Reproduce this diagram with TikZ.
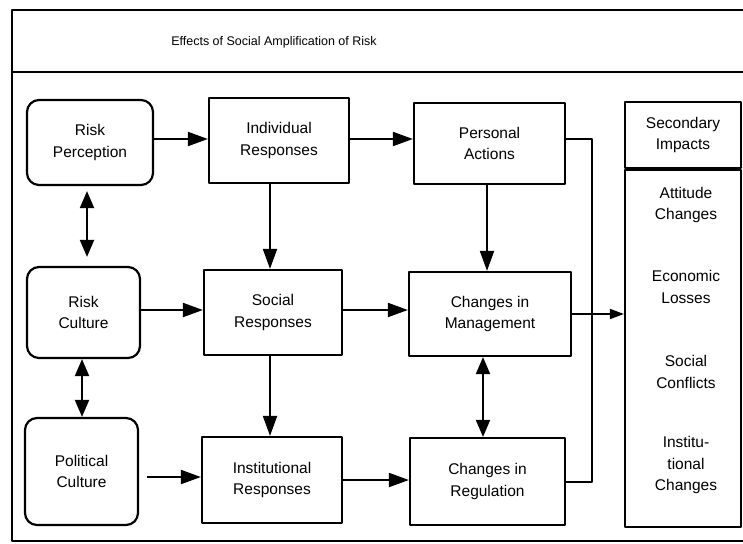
\documentclass[tikz,border=0pt]{standalone}
\usepackage{fontspec}
\setmainfont{Liberation Sans}
\usetikzlibrary{arrows.meta}
\begin{document}
\begin{tikzpicture}[x=1pt, y=-1pt, line join=round, font=\fontsize{15.5}{21.5}\selectfont,
    box/.style={draw, line width=2.2pt, align=center, inner sep=0pt},
    rbox/.style={box, rounded corners=12pt},
    lbl/.style={align=center, inner sep=0pt},
    arr/.style={line width=2pt, -{Triangle[length=20pt,width=14pt]}},
    dbl/.style={line width=2pt, {Triangle[length=17pt,width=14pt]}-{Triangle[length=17pt,width=14pt]}},
    sarr/.style={line width=1.8pt, -{Triangle[length=14pt,width=10pt]}}]
    \useasboundingbox (0,0) rectangle (743,543);
    % frame and title band
    \draw[line width=2.2pt] (743,10) -- (12,10) -- (12,541) -- (743,541) (12,72) -- (743,72);
    \node[lbl, font=\fontsize{12.5}{14}\selectfont] (title) at (274,42) {Effects of Social Amplification of Risk};
    % first column
    \node[rbox, minimum width=126pt, minimum height=85pt] (rp) at (90,142.5) {Risk\\Perception};
    \node[rbox, minimum width=113pt, minimum height=91pt] (rc) at (83.5,312.5) {Risk\\Culture};
    \node[rbox, minimum width=113pt, minimum height=107pt] (pc) at (81.5,471.5) {Political\\Culture};
    % responses
    \node[box, minimum width=140pt, minimum height=85pt] (ir) at (279,140.5) {Individual\\Responses};
    \node[box, minimum width=138pt, minimum height=85pt] (sr) at (273,312.5) {Social\\Responses};
    \node[box, minimum width=140pt, minimum height=86pt] (inr) at (272,480) {Institutional\\Responses};
    % actions and changes
    \node[box, minimum width=151pt, minimum height=81pt] (pa) at (489.5,143.5) {Personal\\Actions};
    \node[box, minimum width=162pt, minimum height=84pt] (cm) at (490,314) {Changes in\\Management};
    \node[box, minimum width=155pt, minimum height=87pt] (cr) at (487.5,481.5) {Changes in\\Regulation};
    % secondary impacts
    \node[box, minimum width=116pt, minimum height=66pt] (si) at (683,135) {Secondary\\Impacts};
    \node[box, minimum width=116pt, minimum height=357pt, anchor=north] (sib) at (si.south) {};
    \node[lbl] (att) at (686,205) {Attitude\\Changes};
    \node[lbl] (eco) at (686,287) {Economic\\Losses};
    \node[lbl] (soc) at (686,372) {Social\\Conflicts};
    \node[lbl] (inc) at (686,465) {Institu-\\tional\\Changes};
    \coordinate (bend) at (592,300);
    % connectors
    \draw[arr] ([yshift=3.5pt]rp.east) -- ([yshift=3.5pt]rp.east -| ir.west);
    \draw[arr] ([yshift=1.5pt]ir.east) -- ([yshift=1.5pt]ir.east -| pa.west);
    \draw[arr] ([xshift=-9pt]ir.south) -- ([xshift=-9pt]ir.south |- sr.north);
    \draw[dbl] ([xshift=-3pt,yshift=-5pt]rp.south) -- ([xshift=3.5pt,yshift=9pt]rc.north);
    \draw[arr] ([yshift=2.5pt]rc.east) -- ([yshift=2.5pt]rc.east -| sr.west);
    \draw[arr] ([yshift=2.5pt]sr.east) -- ([yshift=2.5pt]sr.east -| cm.west);
    \draw[dbl] ([xshift=-1.5pt]rc.south) -- ([xshift=-1.5pt]rc.south |- pc.north);
    \draw[arr] ([xshift=-3pt]sr.south) -- ([xshift=-3pt]sr.south |- inr.north);
    \draw[arr, shorten <=8pt] ([yshift=-5.5pt]pc.east) -- ([yshift=-5.5pt]pc.east -| inr.west);
    \draw[arr] (inr.east) -- (inr.east -| cr.west);
    \draw[arr] ([xshift=-2.5pt]pa.south) -- ([xshift=-2.5pt]pa.south |- cm.north);
    \draw[dbl] ([xshift=-7pt]cm.south) -- ([xshift=-7pt]cm.south |- cr.north);
    \draw[line width=2pt] ([yshift=4.5pt]pa.east) -| (bend) |- (cr.east);
    \draw[sarr] (cm.east) -- (cm.east -| sib.west);
\end{tikzpicture}
\end{document}
